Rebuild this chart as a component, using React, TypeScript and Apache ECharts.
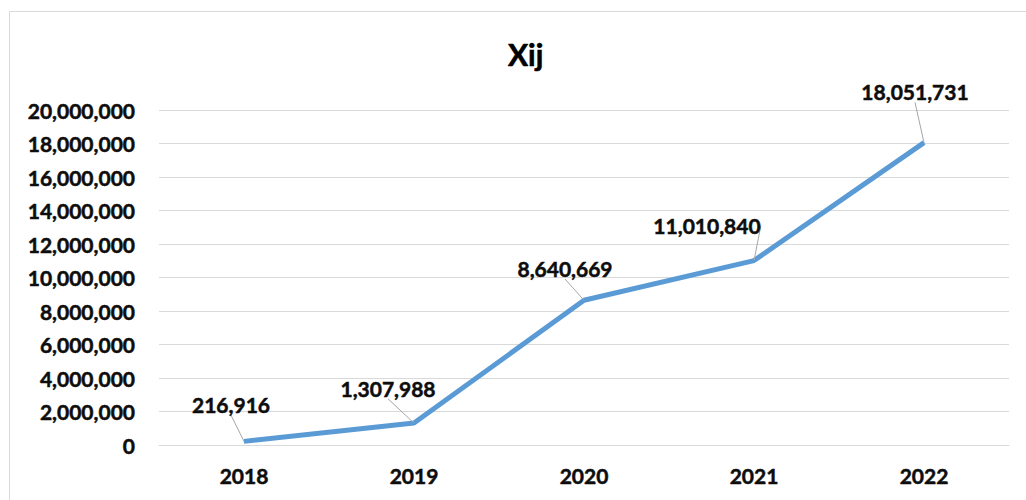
import React, { useEffect, useRef } from "react";
import * as echarts from "echarts";

const categories = ["2018", "2019", "2020", "2021", "2022"];
const values = [216916, 1307988, 8640669, 11010840, 18051731];
const yMin = 0;
const yMax = 20000000;
const yInterval = 2000000;

// label offsets (layout only)
const labelShift = [
  { dx: -13, dy: -21 },
  { dx: -26, dy: -19 },
  { dx: -19, dy: -16 },
  { dx: -47, dy: -19 },
  { dx: -9, dy: -35 },
];

const FONT = "Lato, 'Open Sans', sans-serif";
const TXT = "#0d0d0d";
const boldText = {
  fontFamily: FONT,
  fontSize: 21,
  fontWeight: "bold",
  color: TXT,
  textBorderColor: TXT,
  textBorderWidth: 0.5,
};

export default function App() {
  const ref = useRef<HTMLDivElement>(null);
  useEffect(() => {
    if (!ref.current) return;
    const chart = echarts.init(ref.current, undefined, { renderer: "svg" });
    chart.setOption({
      animation: false,
      backgroundColor: "#ffffff",
      textStyle: { fontFamily: FONT },
      title: {
        text: "Xij",
        left: 503,
        top: 34,
        textStyle: {
          fontFamily: FONT,
          fontSize: 30,
          fontWeight: "bold",
          color: "#000",
          textBorderColor: "#000",
          textBorderWidth: 0.6,
        },
      },
      graphic: [
        {
          type: "rect",
          shape: { x: 9.5, y: 11.5, width: 1040, height: 520 },
          style: { fill: "none", stroke: "#d9d9d9", lineWidth: 1 },
          silent: true,
        },
      ],
      grid: { left: 159, right: 17, top: 110, bottom: 55, containLabel: false },
      xAxis: {
        type: "category",
        data: categories,
        boundaryGap: true,
        axisLine: { show: true, lineStyle: { color: "#d9d9d9", width: 1 } },
        axisTick: { show: false },
        axisLabel: { margin: 20, ...boldText },
      },
      yAxis: {
        type: "value",
        min: yMin,
        max: yMax,
        interval: yInterval,
        axisLine: { show: false },
        axisTick: { show: false },
        splitLine: { lineStyle: { color: "#d9d9d9", width: 1 } },
        axisLabel: {
          margin: 24,
          ...boldText,
          formatter: (v: number) => v.toLocaleString("en-US"),
        },
      },
      series: [
        {
          type: "line",
          data: values,
          symbol: "circle",
          symbolSize: 1,
          showSymbol: true,
          itemStyle: { color: "#5b9bd5" },
          lineStyle: { color: "#5b9bd5", width: 5, join: "round", cap: "butt" },
          label: {
            show: true,
            position: "top",
            distance: 5,
            ...boldText,
            formatter: (p: any) => Number(p.value).toLocaleString("en-US"),
          },
          labelLine: { show: true, lineStyle: { color: "#a6a6a6", width: 1 } },
          labelLayout: (p: any) => ({
            dx: labelShift[p.dataIndex].dx,
            dy: labelShift[p.dataIndex].dy,
          }),
        },
      ],
    });
    return () => chart.dispose();
  }, []);
  return (
    <div
      ref={ref}
      style={{ position: "fixed", left: 0, top: 0, width: 1026, height: 500 }}
    />
  );
}
